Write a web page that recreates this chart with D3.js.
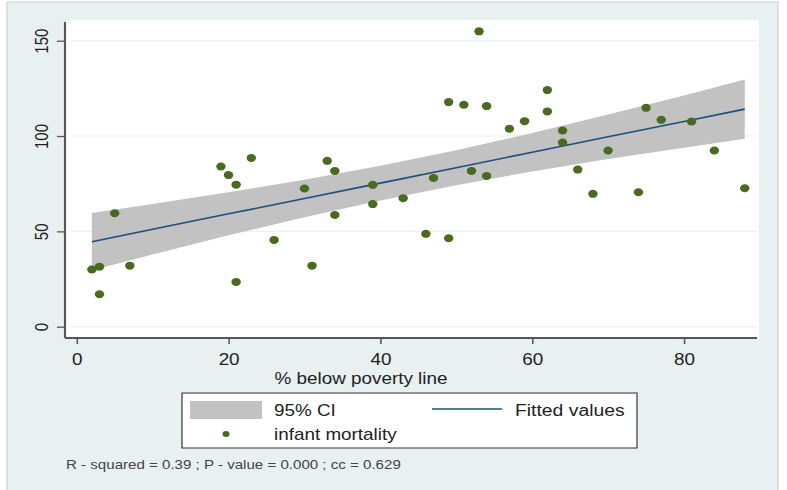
<!DOCTYPE html>
<html>
<head>
<meta charset="utf-8">
<script src="https://cdn.jsdelivr.net/npm/d3@7"></script>
<style>
body { margin: 0; background: #fff; }
svg { display: block; font-family: "Liberation Sans", Arial, sans-serif; }
</style>
</head>
<body>
<div id="chart"></div>
<script>
// scatter: % below poverty line vs infant mortality
const poverty = [2, 3, 3, 5, 7, 19, 20, 21, 21, 23, 26, 30, 31, 33, 34, 34, 39, 39, 43, 46, 47,
    49, 49, 51, 52, 53, 54, 54, 57, 59, 62, 62, 64, 64, 66, 68, 70, 74, 75, 77, 81, 84, 88];
const mortality = [30, 31.5, 17, 59.5, 32, 84, 79.5, 74.5, 23.5, 88.5, 45.5, 72.5, 32, 87, 81.7, 58.6, 74.4, 64.3, 67.4, 48.7, 78,
    117.8, 46.4, 116.4, 81.7, 154.9, 115.7, 79.1, 103.8, 107.8, 124.1, 112.9, 102.9, 96.6, 82.4, 69.7, 92.4, 70.5, 114.8, 108.5, 107.6, 92.4, 72.6];

// fitted line and 95% CI
const fitX = [2, 10, 20, 30, 40, 50, 60, 70, 80, 88];
const fitY = [44.6, 51.1, 59.2, 67.2, 75.3, 83.4, 91.5, 99.6, 107.6, 114.1];
const ciUpper = [59.6, 64.3, 70.5, 77.1, 84.4, 92.6, 101.6, 111.3, 121.3, 129.6];
const ciLower = [29.6, 37.9, 47.9, 57.4, 66.2, 74.2, 81.4, 87.9, 93.9, 98.6];

const xTicks = [0, 20, 40, 60, 80];
const yTicks = [0, 50, 100, 150];
const statsText = "R - squared = 0.39 ; P - value = 0.000 ; cc = 0.629";

// the source image is stretched horizontally, so draw in a narrower box and stretch
const SX = 1.18;
const W = 787, H = 490;
function px(v) { return v / SX; }

const svg = d3.select('#chart').append('svg')
    .attr('width', W)
    .attr('height', H)
    .attr('viewBox', '0 0 ' + px(W) + ' ' + H)
    .attr('preserveAspectRatio', 'none');

// outer graph region (runs off the bottom of the image)
svg.append('rect')
    .attr('x', px(7)).attr('y', 2)
    .attr('width', px(771)).attr('height', 500)
    .attr('fill', '#e8f0f2')
    .attr('stroke', '#c9d1d3')
    .attr('stroke-width', 1);

// plot region
svg.append('rect')
    .attr('x', px(66)).attr('y', 20)
    .attr('width', px(693)).attr('height', 318)
    .attr('fill', '#fff');

let xScale = d3.scaleLinear()
    .domain([0, 80])
    .range([px(76.7), px(684)]);

let yScale = d3.scaleLinear()
    .domain([0, 150])
    .range([326.7, 40.7]);

// grid
svg.append('g')
    .selectAll('line')
    .data(yTicks)
    .enter()
    .append('line')
    .attr('x1', px(70)).attr('x2', px(757))
    .attr('y1', function(d) { return yScale(d); })
    .attr('y2', function(d) { return yScale(d); })
    .attr('stroke', '#e6eef0')
    .attr('stroke-width', 1);

const fitData = fitX.map(function(x, i) {
    return { x: x, y: fitY[i], hi: ciUpper[i], lo: ciLower[i] };
});

let band = d3.area()
    .x(function(d) { return xScale(d.x); })
    .y0(function(d) { return yScale(d.lo); })
    .y1(function(d) { return yScale(d.hi); });

svg.append('path')
    .attr('d', band(fitData))
    .attr('fill', '#c2c2c2');

let line = d3.line()
    .x(function(d) { return xScale(d.x); })
    .y(function(d) { return yScale(d.y); });

svg.append('path')
    .attr('d', line(fitData))
    .attr('fill', 'none')
    .attr('stroke', '#1f4f7d')
    .attr('stroke-width', 1.6);

const points = poverty.map(function(p, i) { return { x: p, y: mortality[i] }; });

svg.selectAll('.dot')
    .data(points)
    .enter()
    .append('circle')
    .attr('class', 'dot')
    .attr('cx', function(d) { return xScale(d.x); })
    .attr('cy', function(d) { return yScale(d.y); })
    .attr('r', 4)
    .attr('fill', '#4a6a20');

// y axis
let yAxis = d3.axisLeft(yScale)
    .tickValues(yTicks)
    .tickSize(px(8))
    .tickSizeOuter(0)
    .tickFormat(d3.format('d'));

let yAxisG = svg.append('g')
    .attr('transform', 'translate(' + px(65) + ',0)')
    .call(yAxis);
yAxisG.select('.domain').remove();
yAxisG.selectAll('.tick line').attr('stroke', '#555').attr('stroke-width', 1.3);
yAxisG.selectAll('.tick text')
    .attr('transform', 'rotate(-90)')
    .attr('x', 0)
    .attr('y', -px(17))
    .attr('dy', 0)
    .attr('text-anchor', 'middle')
    .attr('font-size', 15)
    .attr('font-family', '"Liberation Sans", Arial, sans-serif')
    .attr('fill', '#222');

svg.append('line')
    .attr('x1', px(65)).attr('x2', px(65))
    .attr('y1', 22).attr('y2', 338)
    .attr('stroke', '#555')
    .attr('stroke-width', 1.8);

// x axis
let xAxis = d3.axisBottom(xScale)
    .tickValues(xTicks)
    .tickSize(6)
    .tickSizeOuter(0);

let xAxisG = svg.append('g')
    .attr('transform', 'translate(0,338)')
    .call(xAxis);
xAxisG.select('.domain').remove();
xAxisG.selectAll('.tick line').attr('stroke', '#555').attr('stroke-width', 1.3);
xAxisG.selectAll('.tick text')
    .attr('y', 27)
    .attr('dy', 0)
    .attr('font-size', 16)
    .attr('font-family', '"Liberation Sans", Arial, sans-serif')
    .attr('fill', '#222');

svg.append('line')
    .attr('x1', px(65)).attr('x2', px(757))
    .attr('y1', 338).attr('y2', 338)
    .attr('stroke', '#555')
    .attr('stroke-width', 2);

svg.append('text')
    .attr('x', px(361)).attr('y', 384)
    .attr('text-anchor', 'middle')
    .attr('font-size', 16)
    .attr('fill', '#222')
    .text('% below poverty line');

// legend
let legend = svg.append('g');
legend.append('rect')
    .attr('x', px(182)).attr('y', 393)
    .attr('width', px(455)).attr('height', 55)
    .attr('fill', '#fff')
    .attr('stroke', '#333')
    .attr('stroke-width', 1);
legend.append('rect')
    .attr('x', px(190)).attr('y', 401)
    .attr('width', px(72)).attr('height', 18)
    .attr('fill', '#c2c2c2');
legend.append('text')
    .attr('x', px(274)).attr('y', 416)
    .attr('font-size', 16).attr('fill', '#222')
    .text('95% CI');
legend.append('line')
    .attr('x1', px(432)).attr('x2', px(502))
    .attr('y1', 409).attr('y2', 409)
    .attr('stroke', '#1f4f7d')
    .attr('stroke-width', 1.6);
legend.append('text')
    .attr('x', px(515)).attr('y', 416)
    .attr('font-size', 16.4).attr('fill', '#222')
    .text('Fitted values');
legend.append('circle')
    .attr('cx', px(226)).attr('cy', 434)
    .attr('r', 3)
    .attr('fill', '#4a6a20');
legend.append('text')
    .attr('x', px(274)).attr('y', 440)
    .attr('font-size', 16).attr('fill', '#222')
    .text('infant mortality');

// note
svg.append('text')
    .attr('x', px(66)).attr('y', 469)
    .attr('font-size', 12.8)
    .attr('fill', '#444')
    .text(statsText);
</script>
</body>
</html>
